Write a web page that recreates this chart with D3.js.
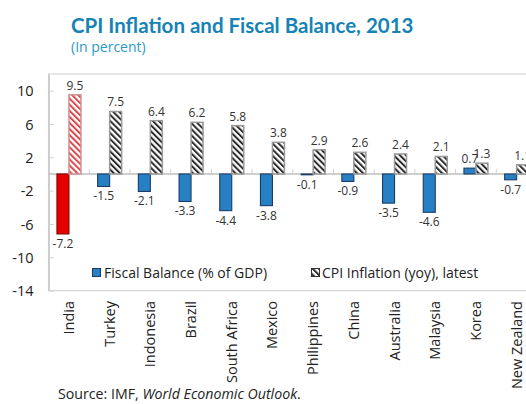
<!DOCTYPE html>
<html>
<head>
<meta charset="utf-8">
<script src="https://cdn.jsdelivr.net/npm/d3@7/dist/d3.min.js"></script>
<style>
  html, body { margin: 0; padding: 0; background: #fff; overflow: hidden; }
  svg { display: block; }
</style>
</head>
<body>
<svg id="chart" width="526" height="404"></svg>
<script>
// Countries, in chart order
const categories = ["India", "Turkey", "Indonesia", "Brazil", "South Africa", "Mexico",
  "Philippines", "China", "Australia", "Malaysia", "Korea", "New Zealand"];
// Fiscal balance, % of GDP
const fiscalBalance = [-7.2, -1.5, -2.1, -3.3, -4.4, -3.8, -0.1, -0.9, -3.5, -4.6, 0.7, -0.7];
// CPI inflation (yoy), latest
const cpiInflation = [9.5, 7.5, 6.4, 6.2, 5.8, 3.8, 2.9, 2.6, 2.4, 2.1, 1.3, 1.1];
// Y axis tick values
const yTicks = [10, 6, 2, -2, -6, -10, -14];
const highlight = "India";

const svg = d3.select("#chart");
const FONT = "'Open Sans', 'DejaVu Sans', sans-serif";
const TITLE_FONT = "Lato, 'Open Sans', sans-serif";

// Number formats with a plain hyphen for negatives
const fmt1 = v => d3.format(".1f")(v).replace("\u2212", "-");
const fmt0 = v => d3.format("d")(v).replace("\u2212", "-");

// Plot geometry (extends past the right edge of the page)
const plotLeft = 48.6, step = 40.7;
const plotRight = plotLeft + step * categories.length;
const plotTop = 74, plotBottom = 290.6;

const x = d3.scaleBand().domain(categories).range([plotLeft, plotRight]).paddingInner(0).paddingOuter(0);
const y = d3.scaleLinear().domain([-14, 12]).range([plotBottom, plotTop]);
const barW = 12;

// Hatch patterns
const defs = svg.append("defs");
function hatch(id, color) {
  const p = defs.append("pattern").attr("id", id)
    .attr("patternUnits", "userSpaceOnUse")
    .attr("width", 4.3).attr("height", 4.3)
    .attr("patternTransform", "rotate(-45)");
  p.append("rect").attr("width", 4.3).attr("height", 4.3).attr("fill", "#fff");
  p.append("rect").attr("width", 2).attr("height", 4.3).attr("fill", color);
}
hatch("hatchDark", "#2b2b2b");
hatch("hatchRed", "#d8474a");

// Title and subtitle
svg.append("text").attr("x", 71).attr("y", 33)
  .attr("font-family", TITLE_FONT).attr("font-weight", "bold").attr("font-size", 20.5)
  .attr("fill", "#1683b4").text("CPI Inflation and Fiscal Balance, 2013");
svg.append("text").attr("x", 71).attr("y", 52)
  .attr("font-family", FONT).attr("font-size", 14)
  .attr("fill", "#2a98c8").text("(In percent)");

// Plot frame
svg.append("rect").attr("x", plotLeft).attr("y", plotTop)
  .attr("width", plotRight - plotLeft + 10).attr("height", plotBottom - plotTop)
  .attr("fill", "none").attr("stroke", "#d9d9d9").attr("stroke-width", 1.3);

// Y axis
const yAxis = d3.axisLeft(y).tickValues(yTicks).tickSize(0).tickPadding(15)
  .tickFormat(fmt0);
const yg = svg.append("g").attr("transform", `translate(${plotLeft},0)`).call(yAxis);
yg.select(".domain").attr("stroke", "#bfbfbf").attr("stroke-width", 1.2);
yg.selectAll(".tick text").attr("font-family", FONT).attr("font-size", 14.5)
  .attr("fill", "#222").attr("dy", "0.36em");
yg.selectAll(".tick").append("line").attr("x1", 0).attr("x2", 5)
  .attr("stroke", "#d0d0d0").attr("stroke-width", 1);

// Zero line with category separators
svg.append("line").attr("x1", plotLeft).attr("x2", plotRight)
  .attr("y1", y(0)).attr("y2", y(0)).attr("stroke", "#bfbfbf").attr("stroke-width", 1.5);
svg.append("g").selectAll("line").data(categories.slice(1)).join("line")
  .attr("x1", d => x(d)).attr("x2", d => x(d))
  .attr("y1", y(0)).attr("y2", y(0) - 5)
  .attr("stroke", "#d0d0d0").attr("stroke-width", 1);

const data = categories.map((c, i) => ({ c, fb: fiscalBalance[i], cpi: cpiInflation[i] }));
const center = d => x(d.c) + x.bandwidth() / 2;

// Fiscal balance bars
svg.append("g").selectAll("rect").data(data).join("rect")
  .attr("x", d => center(d) - barW)
  .attr("y", d => y(Math.max(0, d.fb)))
  .attr("width", barW)
  .attr("height", d => Math.abs(y(d.fb) - y(0)))
  .attr("fill", d => d.c === highlight ? "#e30000" : "#2880c4")
  .attr("stroke", d => d.c === highlight ? "#8a0000" : "#1b3c68")
  .attr("stroke-width", 1.1);

// CPI inflation bars
svg.append("g").selectAll("rect").data(data).join("rect")
  .attr("x", d => center(d))
  .attr("y", d => y(d.cpi))
  .attr("width", barW)
  .attr("height", d => y(0) - y(d.cpi))
  .attr("fill", d => d.c === highlight ? "url(#hatchRed)" : "url(#hatchDark)")
  .attr("stroke", d => d.c === highlight ? "#d09090" : "#9a9a9a")
  .attr("stroke-width", 1.5);

// Value labels
const lab = svg.append("g").attr("font-family", FONT).attr("font-size", 12)
  .attr("fill", "#333").attr("text-anchor", "middle");
lab.selectAll("text.fb").data(data).join("text").attr("class", "fb")
  .attr("x", d => center(d) - barW / 2)
  .attr("y", d => d.fb < 0 ? y(d.fb) + 14 : y(d.fb) - 5)
  .text(d => fmt1(d.fb));
lab.selectAll("text.cpi").data(data).join("text").attr("class", "cpi")
  .attr("x", d => center(d) + barW / 2)
  .attr("y", d => y(d.cpi) - 5)
  .text(d => fmt1(d.cpi));

// Legend
const lg = svg.append("g").attr("font-family", FONT).attr("font-size", 14).attr("fill", "#222");
lg.append("rect").attr("x", 92.5).attr("y", 268.5).attr("width", 8).attr("height", 8)
  .attr("fill", "#2880c4").attr("stroke", "#1b3c68").attr("stroke-width", 1);
lg.append("text").attr("x", 104).attr("y", 278).text("Fiscal Balance (% of GDP)");
lg.append("rect").attr("x", 311.5).attr("y", 268.5).attr("width", 8).attr("height", 8)
  .attr("fill", "url(#hatchDark)").attr("stroke", "#333").attr("stroke-width", 1);
lg.append("text").attr("x", 322).attr("y", 278).text("CPI Inflation (yoy), latest");

// Category labels, rotated
svg.append("g").selectAll("text").data(categories).join("text")
  .attr("transform", d => `translate(${x(d) + x.bandwidth() / 2 + 5},${301}) rotate(-90)`)
  .attr("text-anchor", "end")
  .attr("font-family", FONT).attr("font-size", 14.5).attr("fill", "#222")
  .text(d => d);

// Source note
const src = svg.append("text").attr("x", 58).attr("y", 399)
  .attr("font-family", FONT).attr("font-size", 14.2).attr("fill", "#222");
src.append("tspan").text("Source: IMF, ");
src.append("tspan").attr("font-style", "italic").text("World Economic Outlook");
src.append("tspan").text(".");
</script>
</body>
</html>
